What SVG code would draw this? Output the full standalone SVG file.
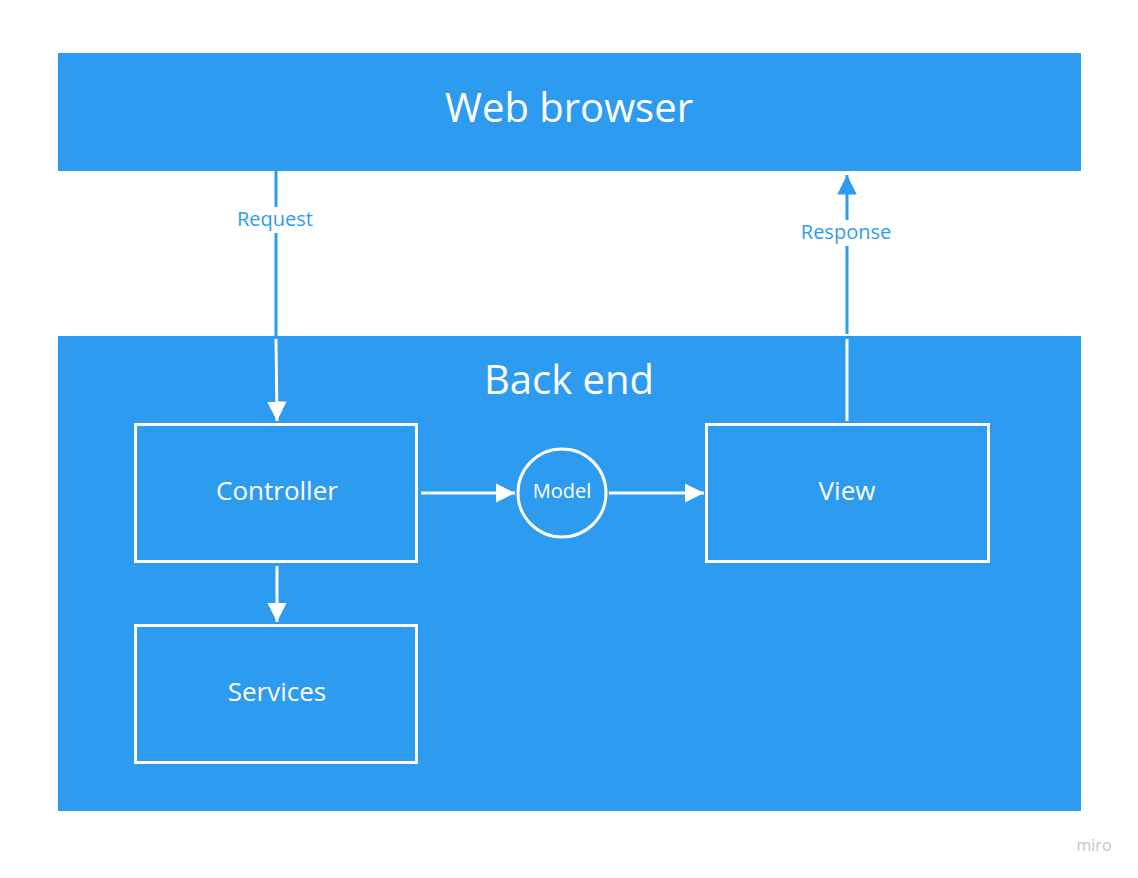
<svg xmlns="http://www.w3.org/2000/svg" width="1138" height="878" viewBox="0 0 1138 878">
<defs>
<style>
.band{fill:#2d9bf0}
.box{fill:none;stroke:#fff;stroke-width:3}
.big{font-family:"Open Sans",sans-serif;font-size:40px;fill:#fff;text-anchor:middle}
.mid{font-family:"Open Sans",sans-serif;font-size:26px;fill:#fff;text-anchor:middle}
.sm{font-family:"Open Sans",sans-serif;font-size:20px;fill:#fff;text-anchor:middle}
.lbl{font-family:"Open Sans",sans-serif;font-size:20px;fill:#2d9bf0;text-anchor:middle}
.wl{stroke:#fff;stroke-width:3;fill:none}
.bl{stroke:#2d9bf0;stroke-width:3;fill:none}
</style>
<marker id="aw" viewBox="0 0 10 10" refX="10" refY="5" markerWidth="6.5" markerHeight="6.5" markerUnits="strokeWidth" orient="auto"><path d="M0,0 L10,5 L0,10 z" fill="#fff"/></marker>
<marker id="ab" viewBox="0 0 10 10" refX="10" refY="5" markerWidth="6.5" markerHeight="6.5" markerUnits="strokeWidth" orient="auto"><path d="M0,0 L10,5 L0,10 z" fill="#2d9bf0"/></marker>
</defs>
<rect width="1138" height="878" fill="#fff"/>
<g id="web-browser">
<rect class="band" x="58" y="53" width="1023" height="118"/>
<text class="big" x="569" y="122">Web browser</text>
</g>
<g id="back-end">
<rect class="band" x="58" y="336" width="1023" height="475"/>
<text class="big" x="569" y="394">Back end</text>
</g>
<g id="controller">
<rect class="box" x="135.5" y="424.5" width="281" height="137"/>
<text class="mid" x="277" y="500">Controller</text>
</g>
<g id="services">
<rect class="box" x="135.5" y="625.5" width="281" height="137"/>
<text class="mid" x="277" y="701">Services</text>
</g>
<g id="view">
<rect class="box" x="706.5" y="424.5" width="282" height="137"/>
<text class="mid" x="847" y="500">View</text>
</g>
<g id="model">
<circle cx="562" cy="493" r="44" fill="none" stroke="#fff" stroke-width="3"/>
<text class="sm" x="562" y="498">Model</text>
</g>
<g id="connectors">
<line class="bl" x1="276" y1="171" x2="276" y2="207"/>
<line class="bl" x1="276" y1="233" x2="276" y2="336"/>
<line class="wl" x1="276" y1="339" x2="277" y2="421" marker-end="url(#aw)"/>
<text class="lbl" x="275" y="226">Request</text>
<line class="wl" x1="847" y1="421" x2="847" y2="339"/>
<line class="bl" x1="847" y1="334" x2="847" y2="246"/>
<line class="bl" x1="847" y1="220" x2="847" y2="175" marker-end="url(#ab)"/>
<text class="lbl" x="846" y="239">Response</text>
<line class="wl" x1="421" y1="493" x2="515" y2="493" marker-end="url(#aw)"/>
<line class="wl" x1="609" y1="493" x2="704" y2="493" marker-end="url(#aw)"/>
<line class="wl" x1="277" y1="566" x2="277" y2="622" marker-end="url(#aw)"/>
</g>
<text x="1094" y="851" font-family="Open Sans, sans-serif" font-size="16" fill="#c4c4c4" text-anchor="middle">miro</text>
</svg>
